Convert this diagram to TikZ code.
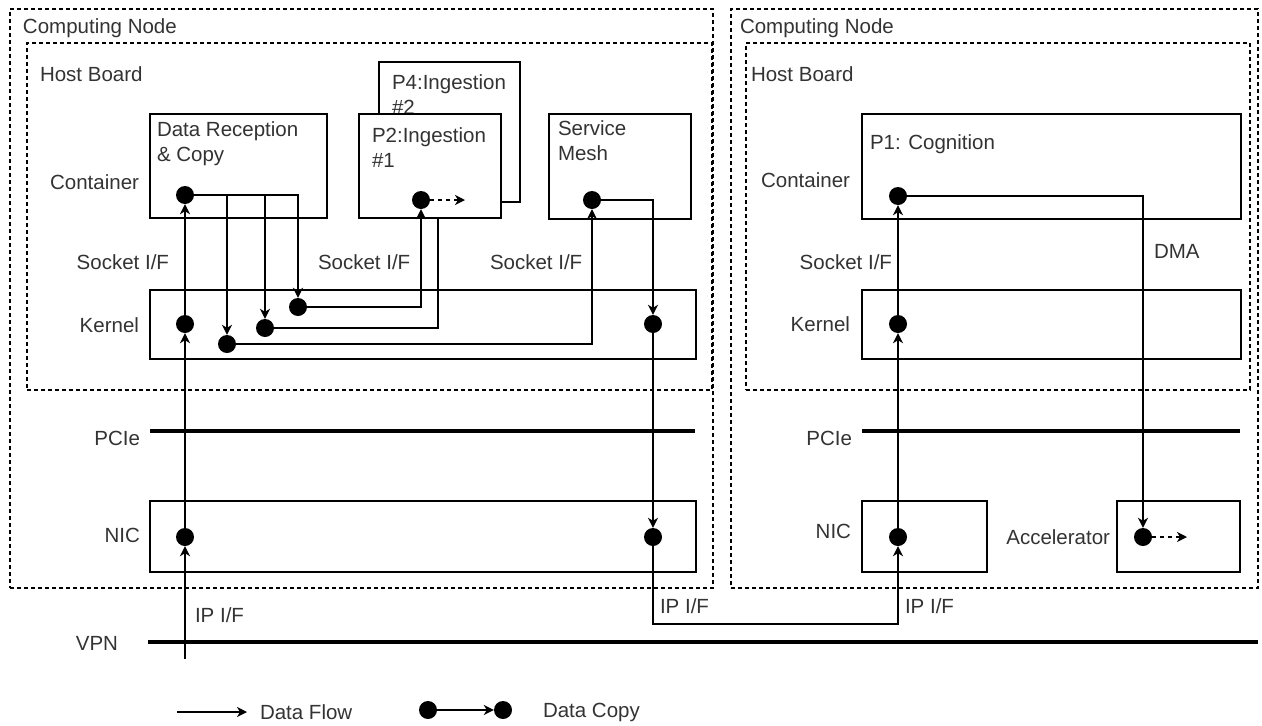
\documentclass[tikz,border=0pt]{standalone}
\usepackage{fontspec}
\setmainfont{Liberation Sans}
\usetikzlibrary{arrows.meta}
\definecolor{txt}{HTML}{333333}
\tikzset{
  lbl/.style={inner sep=0pt, outer sep=0pt, text=txt, font=\fontsize{20.5}{25.5}\selectfont},
  one/.style={lbl, text height=14.7pt, text depth=0pt},
  multi/.style={lbl, align=left, anchor=north west},
  box/.style={draw=black, line width=1.5pt, fill=white, inner sep=0pt, outer sep=0pt, anchor=north west},
  group/.style={draw=black, line width=1.3pt, dash pattern=on 4pt off 3pt, inner sep=0pt, outer sep=0pt, anchor=north west},
  dotn/.style={circle, fill=black, inner sep=0pt, minimum size=18pt},
  flow/.style={line width=1.6pt, -{Stealth[length=10pt,width=10pt,inset=3pt]}},
  local/.style={flow, dash pattern=on 4pt off 4pt},
  bus/.style={line width=3.5pt},
}
\begin{document}
\begin{tikzpicture}[x=1pt,y=-1pt]
\useasboundingbox (0,0) rectangle (1262,726);

% computing nodes and host boards
\node[group, minimum width=703pt, minimum height=579pt] (node1) at (10,9) {};
\node[group, minimum width=685pt, minimum height=347pt] (host1) at (27,43) {};
\node[group, minimum width=527pt, minimum height=579pt] (node2) at (731,9) {};
\node[group, minimum width=504pt, minimum height=347pt] (host2) at (746,43) {};
\node[one, anchor=west] (tnode1) at (23,26) {Computing Node};
\node[one, anchor=west] (thost1) at (40,74) {Host Board};
\node[one, anchor=west] (tnode2) at (740,26) {Computing Node};
\node[one, anchor=west] (thost2) at (751,74) {Host Board};

% PCIe and VPN buses
\draw[bus] (150,431) -- (695,431);
\draw[bus] (862,431) -- (1240,431);
\draw[bus] (148,642) -- (1258,642);

% layer labels
\node[one, anchor=east] (tcont1) at (139,182) {Container};
\node[one, anchor=east] (tkern1) at (139,325) {Kernel};
\node[one, anchor=east] (tpcie1) at (140,438) {PCIe};
\node[one, anchor=east] (tnic1) at (140,535) {NIC};
\node[one, anchor=east] (tvpn) at (118,643) {VPN};
\node[one, anchor=east] (tcont2) at (850,180) {Container};
\node[one, anchor=east] (tkern2) at (850,324) {Kernel};
\node[one, anchor=east] (tpcie2) at (852,438) {PCIe};
\node[one, anchor=east] (tnic2) at (851,531) {NIC};
\node[one, anchor=east] (tacc) at (1110,537) {Accelerator};

% containers and devices
\node[box, minimum width=177pt, minimum height=104pt] (drbox) at (150,114) {};
\node[multi] (tdr) at (157,121.6) {Data Reception\\\& Copy};
\node[box, minimum width=141pt, minimum height=140pt] (p4box) at (379,62) {};
\node[multi] (tp4) at (392,74.6) {P4:Ingestion\\\#2};
\node[box, minimum width=142pt, minimum height=105pt] (smbox) at (549,114) {};
\node[multi] (tsm) at (558,120.6) {Service\\Mesh};
\node[box, minimum width=379pt, minimum height=105pt] (p1box) at (862,114) {};
\node[one, anchor=west] (tp1) at (870,142) {P1: Cognition};
\node[box, minimum width=546pt, minimum height=69pt] (kbox1) at (150,290) {};
\node[box, minimum width=379pt, minimum height=69pt] (kbox2) at (862,290) {};
\node[box, minimum width=546pt, minimum height=71pt] (nbox1) at (150,501) {};
\node[box, minimum width=125pt, minimum height=71pt] (nbox2) at (862,501) {};
\node[box, minimum width=123pt, minimum height=71pt] (abox) at (1117,501) {};

% second ingestion instance, fed from the kernel and partly hidden
\node[dotn] (p4d) at (438,192) {};
\node[dotn] (k2) at (265,328) {};
\draw[flow] (k2) -| (p4d);

\node[box, minimum width=142pt, minimum height=104pt] (p2box) at (359,114) {};
\node[multi] (tp2) at (372,127.6) {P2:Ingestion\\\#1};

% copy points
\node[dotn] (dr) at (185,195) {};
\node[dotn] (kerL) at (185,324) {};
\node[dotn] (nicL) at (185,537) {};
\node[dotn] (k1) at (227,344) {};
\node[dotn] (k3) at (298,307) {};
\node[dotn] (p2d) at (421,200) {};
\node[dotn] (sm) at (592,200) {};
\node[dotn] (kerM) at (653,324) {};
\node[dotn] (nicM) at (653,537) {};
\node[dotn] (nicR) at (898,537) {};
\node[dotn] (kerR) at (898,324) {};
\node[dotn] (p1) at (898,196) {};
\node[dotn] (acc) at (1143,537) {};

\coordinate (in) at (185,659);
\coordinate (ipbend) at (898,624);
\coordinate (p2out) at (465,200);
\coordinate (accout) at (1187,537);

% data flows
\draw[flow] (in) -- (nicL);
\draw[flow] (nicL) -- (kerL);
\draw[flow] (kerL) -- (dr);
\draw[flow] (dr) -| (k1);
\draw[flow] (dr) -| (k2);
\draw[flow] (dr) -| (k3);
\draw[flow] (k3) -| (p2d);
\draw[flow] (k1) -| (sm);
\draw[flow] (sm) -| (kerM);
\draw[flow] (kerM) -- (nicM);
\draw[flow] (nicM) |- (ipbend) -- (nicR);
\draw[flow] (nicR) -- (kerR);
\draw[flow] (kerR) -- (p1);
\draw[flow] (p1) -| (acc);
\draw[local] (p2d) -- (p2out);
\draw[local] (acc) -- (accout);

% interface labels
\node[one, anchor=east] (sock1) at (169,262) {Socket I/F};
\node[one, anchor=west] (sock2) at (318,262) {Socket I/F};
\node[one, anchor=west] (sock3) at (490,262) {Socket I/F};
\node[one, anchor=east] (sock4) at (892,262) {Socket I/F};
\node[one, anchor=west] (ip1) at (195,615) {IP I/F};
\node[one, anchor=west] (ip2) at (660,606) {IP I/F};
\node[one, anchor=west] (ip3) at (905,606) {IP I/F};
\node[one, anchor=west] (tdma) at (1154,251) {DMA};

% legend
\coordinate (lgA) at (177,712);
\coordinate (lgB) at (247,712);
\draw[flow] (lgA) -- (lgB);
\node[one, anchor=west] (tflow) at (260,712) {Data Flow};
\node[dotn] (lc1) at (428,710) {};
\node[dotn] (lc2) at (503,710) {};
\draw[flow] (lc1) -- (lc2);
\node[one, anchor=west] (tcopy) at (543,710) {Data Copy};
\end{tikzpicture}
\end{document}
